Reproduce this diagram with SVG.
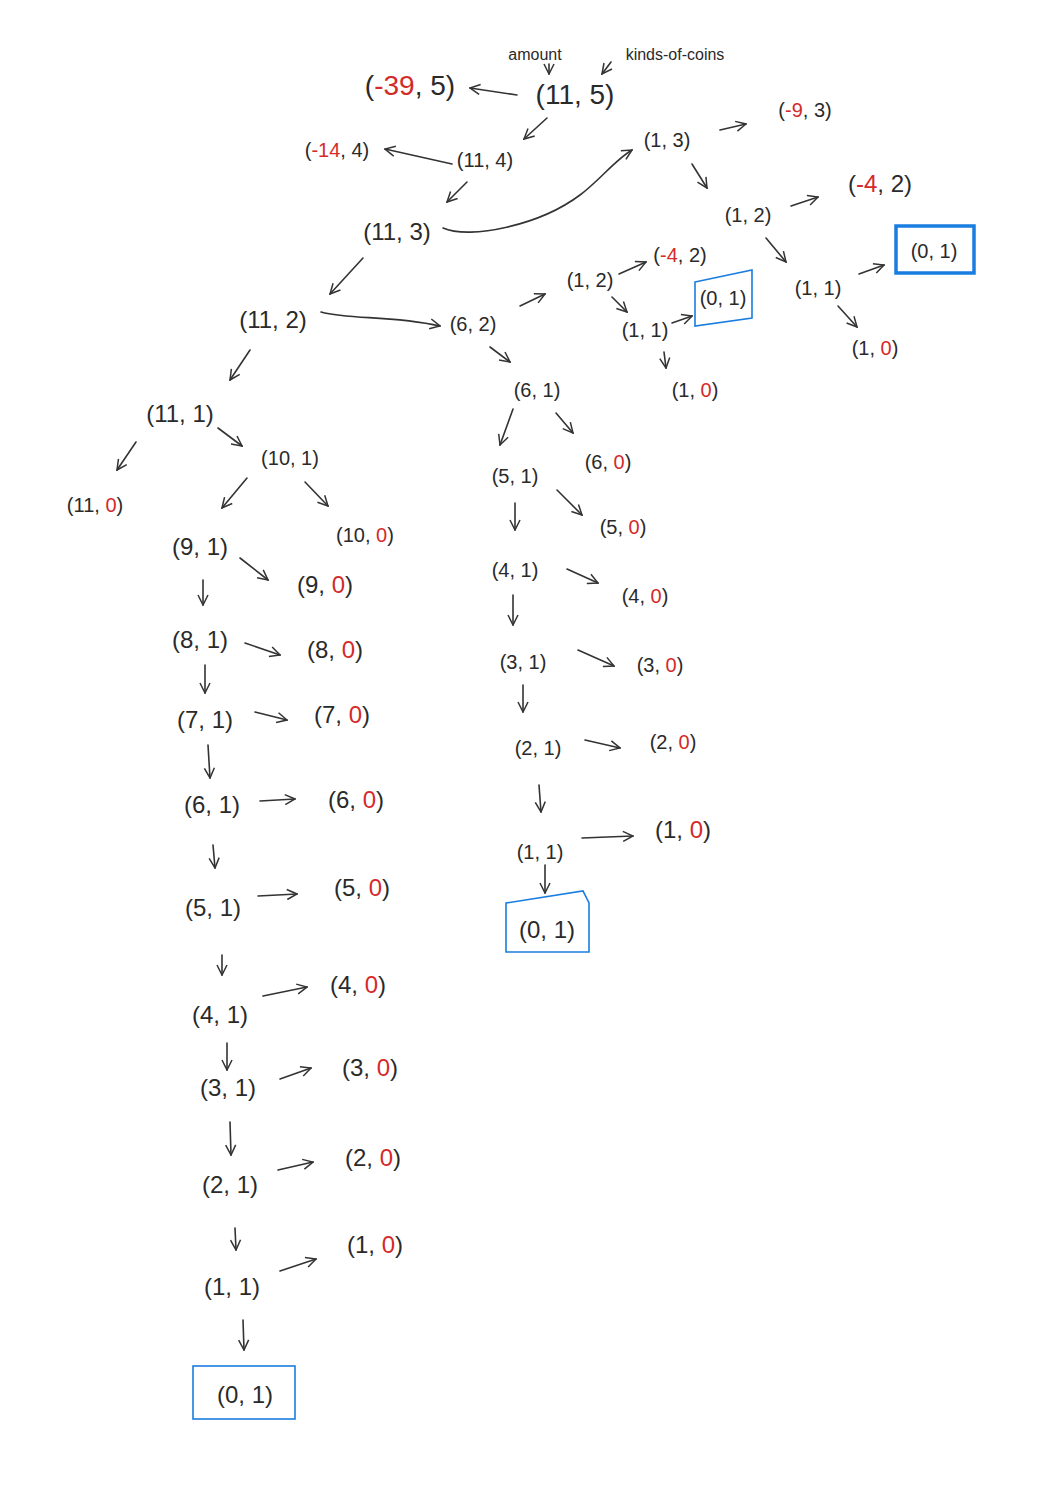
<svg xmlns="http://www.w3.org/2000/svg" width="1050" height="1485" viewBox="0 0 1050 1485">
<style>
text{font-family:"Liberation Sans","DejaVu Sans",sans-serif;fill:#2a2a2a;text-anchor:middle}
.L{font-size:28px}
.n{font-size:24px}
.s{font-size:20px}
.t{font-size:16px}
.r{fill:#d42a2a}
.e{fill:none;stroke:#333;stroke-width:1.6;stroke-linecap:round}
.b1{fill:none;stroke:#1a7de0;stroke-width:1.6}
.b2{fill:none;stroke:#1a7de0;stroke-width:3.5}
</style>
<defs>
<marker id="a" viewBox="0 0 12 12" refX="11" refY="6" markerWidth="12" markerHeight="12" markerUnits="userSpaceOnUse" orient="auto">
<path d="M1,1 L11,6 L1,11" fill="none" stroke="#333" stroke-width="1.5"/>
</marker>
</defs>
<rect width="1050" height="1485" fill="#fff"/>
<g id="connectors">
<path class="e" marker-end="url(#a)" d="M549,64 L549,74"/>
<path class="e" marker-end="url(#a)" d="M611,62 L602,74"/>
<path class="e" marker-end="url(#a)" d="M517,95 L470,88"/>
<path class="e" marker-end="url(#a)" d="M547,118 L524,139"/>
<path class="e" marker-end="url(#a)" d="M452,164 L385,149"/>
<path class="e" marker-end="url(#a)" d="M467,182 L447,202"/>
<path class="e" marker-end="url(#a)" d="M443,228 C470,240 540,225 580,195 C600,180 615,160 632,150"/>
<path class="e" marker-end="url(#a)" d="M720,130 L746,124"/>
<path class="e" marker-end="url(#a)" d="M692,164 L707,188"/>
<path class="e" marker-end="url(#a)" d="M791,206 L818,197"/>
<path class="e" marker-end="url(#a)" d="M766,238 L786,262"/>
<path class="e" marker-end="url(#a)" d="M859,274 L884,265"/>
<path class="e" marker-end="url(#a)" d="M838,306 L857,327"/>
<path class="e" marker-end="url(#a)" d="M363,258 L330,294"/>
<path class="e" marker-end="url(#a)" d="M321,312 C350,320 390,315 440,326"/>
<path class="e" marker-end="url(#a)" d="M520,306 L545,294"/>
<path class="e" marker-end="url(#a)" d="M619,274 L646,262"/>
<path class="e" marker-end="url(#a)" d="M612,297 L627,312"/>
<path class="e" marker-end="url(#a)" d="M672,323 L692,316"/>
<path class="e" marker-end="url(#a)" d="M664,352 L666,368"/>
<path class="e" marker-end="url(#a)" d="M490,347 L510,362"/>
<path class="e" marker-end="url(#a)" d="M513,409 L500,445"/>
<path class="e" marker-end="url(#a)" d="M556,413 L573,433"/>
<path class="e" marker-end="url(#a)" d="M557,490 L582,515"/>
<path class="e" marker-end="url(#a)" d="M515,503 L515,530"/>
<path class="e" marker-end="url(#a)" d="M567,569 L598,583"/>
<path class="e" marker-end="url(#a)" d="M513,595 L513,625"/>
<path class="e" marker-end="url(#a)" d="M578,650 L614,666"/>
<path class="e" marker-end="url(#a)" d="M523,685 L523,712"/>
<path class="e" marker-end="url(#a)" d="M585,740 L620,748"/>
<path class="e" marker-end="url(#a)" d="M539,785 L541,812"/>
<path class="e" marker-end="url(#a)" d="M582,838 L633,836"/>
<path class="e" marker-end="url(#a)" d="M545,865 L545,893"/>
<path class="e" marker-end="url(#a)" d="M250,350 L230,380"/>
<path class="e" marker-end="url(#a)" d="M136,442 L117,470"/>
<path class="e" marker-end="url(#a)" d="M218,428 L242,446"/>
<path class="e" marker-end="url(#a)" d="M247,478 L222,508"/>
<path class="e" marker-end="url(#a)" d="M305,482 L328,506"/>
<path class="e" marker-end="url(#a)" d="M240,558 L268,580"/>
<path class="e" marker-end="url(#a)" d="M203,580 L203,605"/>
<path class="e" marker-end="url(#a)" d="M245,643 L280,655"/>
<path class="e" marker-end="url(#a)" d="M205,665 L205,693"/>
<path class="e" marker-end="url(#a)" d="M255,712 L287,720"/>
<path class="e" marker-end="url(#a)" d="M208,745 L210,778"/>
<path class="e" marker-end="url(#a)" d="M260,801 L295,799"/>
<path class="e" marker-end="url(#a)" d="M213,845 L215,868"/>
<path class="e" marker-end="url(#a)" d="M258,896 L297,894"/>
<path class="e" marker-end="url(#a)" d="M222,955 L222,975"/>
<path class="e" marker-end="url(#a)" d="M263,996 L307,987"/>
<path class="e" marker-end="url(#a)" d="M227,1043 L227,1070"/>
<path class="e" marker-end="url(#a)" d="M280,1079 L311,1068"/>
<path class="e" marker-end="url(#a)" d="M230,1122 L231,1155"/>
<path class="e" marker-end="url(#a)" d="M278,1170 L313,1162"/>
<path class="e" marker-end="url(#a)" d="M235,1228 L236,1250"/>
<path class="e" marker-end="url(#a)" d="M280,1271 L316,1259"/>
<path class="e" marker-end="url(#a)" d="M243,1320 L244,1350"/>
</g>
<g id="lbl-amount"><text class="t" x="535" y="60">amount</text></g>
<g id="lbl-kinds"><text class="t" x="675" y="60">kinds-of-coins</text></g>
<g id="n11-5"><text class="L" x="575" y="104">(11, 5)</text></g>
<g id="n-39-5"><text class="L" x="410" y="95">(<tspan class="r">-39</tspan>, 5)</text></g>
<g id="n11-4"><text class="s" x="485" y="167">(11, 4)</text></g>
<g id="n-14-4"><text class="s" x="337" y="157">(<tspan class="r">-14</tspan>, 4)</text></g>
<g id="n11-3"><text class="n" x="397" y="240">(11, 3)</text></g>
<g id="n1-3"><text class="s" x="667" y="147">(1, 3)</text></g>
<g id="n-9-3"><text class="s" x="805" y="117">(<tspan class="r">-9</tspan>, 3)</text></g>
<g id="n1-2a"><text class="s" x="748" y="222">(1, 2)</text></g>
<g id="n-4-2a"><text class="n" x="880" y="192">(<tspan class="r">-4</tspan>, 2)</text></g>
<g id="n1-1a"><text class="s" x="818" y="295">(1, 1)</text></g>
<g id="n0-1a"><rect class="b2" x="896" y="226" width="78" height="47"/><text class="s" x="934" y="258">(0, 1)</text></g>
<g id="n1-0a"><text class="s" x="875" y="355">(1, <tspan class="r">0</tspan>)</text></g>
<g id="n11-2"><text class="n" x="273" y="328">(11, 2)</text></g>
<g id="n6-2"><text class="s" x="473" y="331">(6, 2)</text></g>
<g id="n1-2b"><text class="s" x="590" y="287">(1, 2)</text></g>
<g id="n-4-2b"><text class="s" x="680" y="262">(<tspan class="r">-4</tspan>, 2)</text></g>
<g id="n1-1b"><text class="s" x="645" y="337">(1, 1)</text></g>
<g id="n0-1b"><polygon class="b1" points="695,282 752,270 752,318 695,326"/><text class="s" x="723" y="305">(0, 1)</text></g>
<g id="n1-0b"><text class="s" x="695" y="397">(1, <tspan class="r">0</tspan>)</text></g>
<g id="n6-1"><text class="s" x="537" y="397">(6, 1)</text></g>
<g id="n6-0"><text class="s" x="608" y="469">(6, <tspan class="r">0</tspan>)</text></g>
<g id="n5-1"><text class="s" x="515" y="483">(5, 1)</text></g>
<g id="n5-0"><text class="s" x="623" y="534">(5, <tspan class="r">0</tspan>)</text></g>
<g id="n4-1"><text class="s" x="515" y="577">(4, 1)</text></g>
<g id="n4-0"><text class="s" x="645" y="603">(4, <tspan class="r">0</tspan>)</text></g>
<g id="n3-1"><text class="s" x="523" y="669">(3, 1)</text></g>
<g id="n3-0"><text class="s" x="660" y="672">(3, <tspan class="r">0</tspan>)</text></g>
<g id="n2-1"><text class="s" x="538" y="755">(2, 1)</text></g>
<g id="n2-0"><text class="s" x="673" y="749">(2, <tspan class="r">0</tspan>)</text></g>
<g id="n1-1c"><text class="s" x="540" y="859">(1, 1)</text></g>
<g id="n1-0c"><text class="n" x="683" y="838">(1, <tspan class="r">0</tspan>)</text></g>
<g id="n0-1c"><polygon class="b1" points="506,903 583,891 589,903 589,952 506,952"/><text class="n" x="547" y="938">(0, 1)</text></g>
<g id="n11-1"><text class="n" x="180" y="422">(11, 1)</text></g>
<g id="n11-0"><text class="s" x="95" y="512">(11, <tspan class="r">0</tspan>)</text></g>
<g id="n10-1"><text class="s" x="290" y="465">(10, 1)</text></g>
<g id="n10-0"><text class="s" x="365" y="542">(10, <tspan class="r">0</tspan>)</text></g>
<g id="n9-1"><text class="n" x="200" y="555">(9, 1)</text></g>
<g id="n9-0"><text class="n" x="325" y="593">(9, <tspan class="r">0</tspan>)</text></g>
<g id="n8-1"><text class="n" x="200" y="648">(8, 1)</text></g>
<g id="n8-0"><text class="n" x="335" y="658">(8, <tspan class="r">0</tspan>)</text></g>
<g id="n7-1"><text class="n" x="205" y="728">(7, 1)</text></g>
<g id="n7-0"><text class="n" x="342" y="723">(7, <tspan class="r">0</tspan>)</text></g>
<g id="n6-1c"><text class="n" x="212" y="813">(6, 1)</text></g>
<g id="n6-0c"><text class="n" x="356" y="808">(6, <tspan class="r">0</tspan>)</text></g>
<g id="n5-1c"><text class="n" x="213" y="916">(5, 1)</text></g>
<g id="n5-0c"><text class="n" x="362" y="896">(5, <tspan class="r">0</tspan>)</text></g>
<g id="n4-1c"><text class="n" x="220" y="1023">(4, 1)</text></g>
<g id="n4-0c"><text class="n" x="358" y="993">(4, <tspan class="r">0</tspan>)</text></g>
<g id="n3-1c"><text class="n" x="228" y="1096">(3, 1)</text></g>
<g id="n3-0c"><text class="n" x="370" y="1076">(3, <tspan class="r">0</tspan>)</text></g>
<g id="n2-1c"><text class="n" x="230" y="1193">(2, 1)</text></g>
<g id="n2-0c"><text class="n" x="373" y="1166">(2, <tspan class="r">0</tspan>)</text></g>
<g id="n1-1d"><text class="n" x="232" y="1295">(1, 1)</text></g>
<g id="n1-0d"><text class="n" x="375" y="1253">(1, <tspan class="r">0</tspan>)</text></g>
<g id="n0-1d"><rect class="b1" x="193" y="1366" width="102" height="53"/><text class="n" x="245" y="1403">(0, 1)</text></g>
</svg>
